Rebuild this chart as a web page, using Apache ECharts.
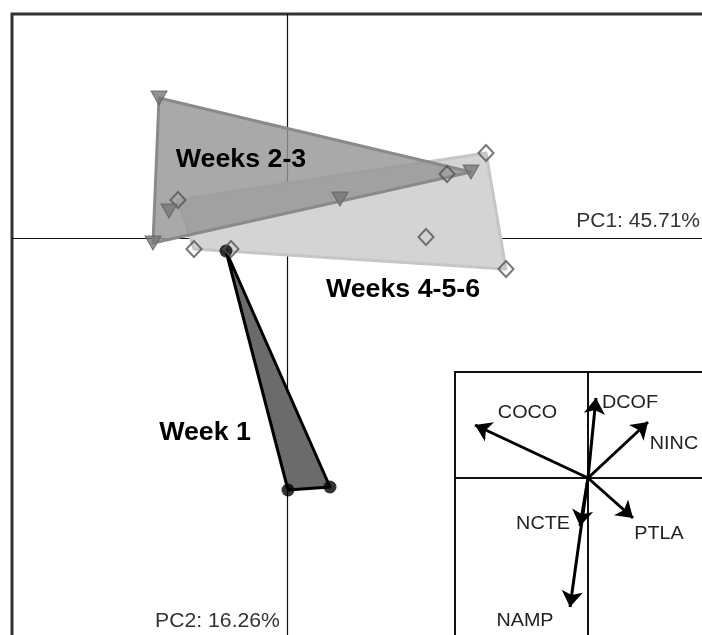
<!DOCTYPE html>
<html>
<head>
<meta charset="utf-8">
<script src="https://cdn.jsdelivr.net/npm/echarts@6/dist/echarts.min.js"></script>
<style>html,body{margin:0;padding:0;background:#fff}#c{width:702px;height:635px}</style>
</head>
<body>
<div id="c"></div>
<script>
// ---- Data (PCA scores) ----
const week1 = [[-0.61, -0.13], [0.01, -2.52], [0.43, -2.49]];
const weeks23 = [[-1.28, 1.40], [-1.18, 0.27], [-1.34, -0.05], [0.53, 0.39], [1.84, 0.66]];
const weeks456 = [[-1.09, 0.38], [-0.93, -0.11], [-0.56, -0.11], [1.60, 0.64], [1.99, 0.85], [1.39, 0.01], [2.19, -0.31]];
const groupNames = ['Week 1', 'Weeks 2-3', 'Weeks 4-5-6'];
const groupLabelPos = [[-0.82, -1.95], [-0.46, 0.78], [1.16, -0.52]];
const axisNames = ['PC1: 45.71%', 'PC2: 16.26%'];
const axisNamePos = [[4.13, 0.17], [-0.695, -3.83]];
// ---- Loadings (inset) ----
const varNames = ['COCO', 'DCOF', 'NINC', 'PTLA', 'NCTE', 'NAMP'];
const varLoadings = [[-1.13, 0.53], [0.08, 0.80], [0.60, 0.56], [0.45, -0.40], [-0.08, -0.48], [-0.18, -1.29]];
const varLabelPos = [[-0.605, 0.65], [0.42, 0.75], [0.86, 0.34], [0.71, -0.56], [-0.45, -0.46], [-0.63, -1.43]];

function hull(pts) {
  const p = pts.slice().sort((a, b) => a[0] - b[0] || a[1] - b[1]);
  const cross = (o, a, b) => (a[0]-o[0])*(b[1]-o[1]) - (a[1]-o[1])*(b[0]-o[0]);
  const lower = [], upper = [];
  for (const q of p) { while (lower.length >= 2 && cross(lower[lower.length-2], lower[lower.length-1], q) <= 0) lower.pop(); lower.push(q); }
  for (let i = p.length-1; i >= 0; i--) { const q = p[i]; while (upper.length >= 2 && cross(upper[upper.length-2], upper[upper.length-1], q) <= 0) upper.pop(); upper.push(q); }
  upper.pop(); lower.pop();
  return lower.concat(upper);
}

function polySeries(pts, fill, stroke, lw, z) {
  const h = hull(pts);
  return {
    type: 'custom', coordinateSystem: 'cartesian2d', xAxisIndex: 0, yAxisIndex: 0,
    silent: true, z: z, data: [[0, 0]],
    renderItem: (params, api) => ({
      type: 'polygon',
      shape: { points: h.map(p => api.coord(p)) },
      style: { fill: fill, stroke: stroke, lineWidth: lw, lineJoin: 'round' }
    })
  };
}

function textSeries(pos, texts, font, color, xi, yi, align, z, sx) {
  return {
    type: 'custom', coordinateSystem: 'cartesian2d', xAxisIndex: xi, yAxisIndex: yi,
    silent: true, z: z, data: pos,
    renderItem: (params, api) => {
      const c = api.coord([api.value(0), api.value(1)]);
      return { type: 'text', x: c[0], y: c[1], scaleX: sx || 1,
        style: { text: texts[params.dataIndex], font: font, fill: color, align: align || 'center', verticalAlign: 'middle' } };
    }
  };
}

const FONT = '"Liberation Sans", Arial, sans-serif';
const chart = echarts.init(document.getElementById('c'), null, { renderer: 'canvas' });
chart.setOption({
  animation: false,
  backgroundColor: '#fff',
  grid: [
    { left: 12, top: 14, width: 700, height: 630, show: true, borderColor: '#333', borderWidth: 3, backgroundColor: '#fff',
      containLabel: false, outerBoundsMode: 'none' },
    { left: 455, top: 372, width: 300, height: 300, show: true, borderColor: '#111', borderWidth: 2, backgroundColor: '#fff',
      z: 5, containLabel: false, outerBoundsMode: 'none' }
  ],
  xAxis: [
    { gridIndex: 0, type: 'value', min: -2.75, max: 4.25, splitLine: { show: false }, axisTick: { show: false }, axisLabel: { show: false },
      axisLine: { show: true, onZero: true, lineStyle: { color: '#111', width: 1.2 } } },
    { gridIndex: 1, type: 'value', min: -1.33, max: 1.67, splitLine: { show: false }, axisTick: { show: false }, axisLabel: { show: false },
      axisLine: { show: true, onZero: true, lineStyle: { color: '#111', width: 2 } }, z: 6 }
  ],
  yAxis: [
    { gridIndex: 0, type: 'value', min: -4.06, max: 2.24, splitLine: { show: false }, axisTick: { show: false }, axisLabel: { show: false },
      axisLine: { show: true, onZero: true, lineStyle: { color: '#111', width: 1.2 } } },
    { gridIndex: 1, type: 'value', min: -1.94, max: 1.06, splitLine: { show: false }, axisTick: { show: false }, axisLabel: { show: false },
      axisLine: { show: true, onZero: true, lineStyle: { color: '#111', width: 2 } }, z: 6 }
  ],
  series: [
    polySeries(weeks456, '#d4d4d4', '#c6c6c6', 3, 2),
    polySeries(weeks23, 'rgba(150,150,150,0.82)', '#8a8a8a', 3, 3),
    polySeries(week1, '#6b6b6b', '#000', 3, 4),
    { type: 'scatter', xAxisIndex: 0, yAxisIndex: 0, data: week1, symbol: 'circle', symbolSize: 13,
      itemStyle: { color: '#000' }, z: 5, silent: true },
    { type: 'scatter', xAxisIndex: 0, yAxisIndex: 0, data: weeks456, symbol: 'diamond', symbolSize: [15, 16],
      itemStyle: { color: 'rgba(0,0,0,0)', borderColor: '#555', borderWidth: 2 }, z: 6, silent: true },
    { type: 'scatter', xAxisIndex: 0, yAxisIndex: 0, data: weeks23, symbol: 'triangle', symbolRotate: 180, symbolSize: [16, 14],
      itemStyle: { color: '#777', borderColor: '#5e5e5e', borderWidth: 1 }, z: 7, silent: true },
    textSeries(groupLabelPos, groupNames, 'bold 25px ' + FONT, '#000', 0, 0, 'center', 8, 1.07),
    textSeries(axisNamePos.slice(0, 1), axisNames.slice(0, 1), '20px ' + FONT, '#333', 0, 0, 'right', 8, 1.05),
    textSeries(axisNamePos.slice(1), axisNames.slice(1), '20px ' + FONT, '#333', 0, 0, 'center', 8, 1.06),
    { type: 'lines', coordinateSystem: 'cartesian2d', xAxisIndex: 1, yAxisIndex: 1, z: 10, silent: true,
      symbol: ['none', 'arrow'], symbolSize: 16,
      lineStyle: { color: '#000', width: 3, opacity: 1 },
      data: varLoadings.map(v => ({ coords: [[0, 0], v] })) },
    textSeries(varLabelPos, varNames, '19px ' + FONT, '#222', 1, 1, 'center', 11, 1.04)
  ]
});
</script>
</body>
</html>
